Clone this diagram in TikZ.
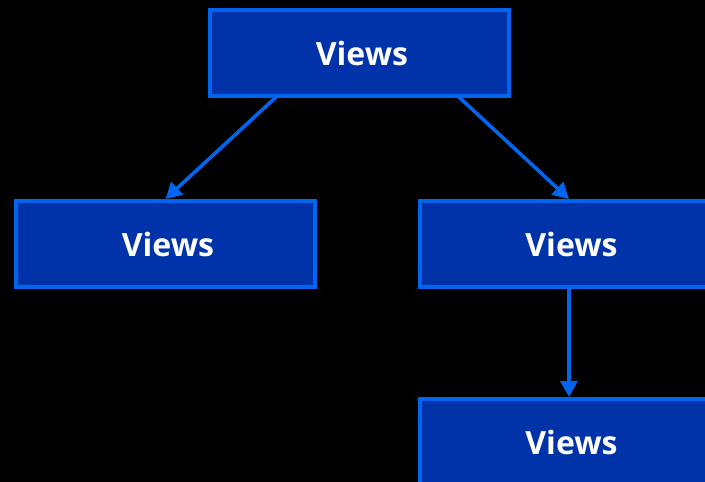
\documentclass[tikz,border=0pt]{standalone}
\usepackage{fontspec}
\setmainfont{Open Sans}
\usetikzlibrary{arrows.meta}
\definecolor{boxfill}{HTML}{0033AA}
\definecolor{boxline}{HTML}{0066F0}
\begin{document}
\begin{tikzpicture}[x=1pt,y=1pt,
  viewbox/.style={draw=boxline, fill=boxfill, line width=4pt, minimum width=299pt, minimum height=86pt, inner sep=0pt, text=white, font=\fontsize{32}{36}\selectfont\bfseries},
  conn/.style={draw=boxline, line width=3.6pt, -{Triangle[length=16pt,width=17pt]}, shorten <=-2pt}]
\fill[black] (0,0) rectangle (705,-482);
\useasboundingbox (0,0) rectangle (705,-482);
\node[viewbox] (top) at (359.5,-53) {\hspace*{5pt}Views};
\node[viewbox] (left) at (165.5,-244) {\hspace*{5pt}Views};
\node[viewbox] (right) at (569,-244) {\hspace*{5pt}Views};
\node[viewbox] (bottom) at (569,-442) {\hspace*{5pt}Views};
\draw[conn] ([xshift=-84.5pt]top.south) -- (left.north);
\draw[conn] ([xshift=100.5pt]top.south) -- (right.north);
\draw[conn] (right.south) -- (bottom.north);
\end{tikzpicture}
\end{document}
